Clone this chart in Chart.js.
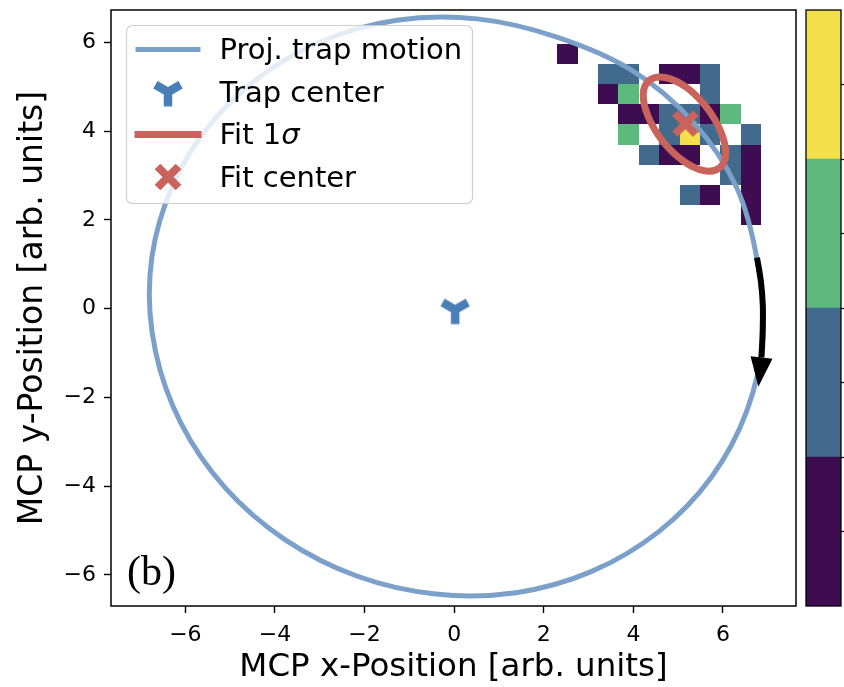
<!DOCTYPE html>
<html>
<head>
<meta charset="utf-8">
<script src="https://cdn.jsdelivr.net/npm/chart.js@4.4.1/dist/chart.umd.min.js"></script>
<style>
    html, body { margin: 0; padding: 0; background: #fff; overflow: hidden; }
    #wrap { position: relative; width: 844px; height: 687px; overflow: hidden; }
    #main-box { position: absolute; left: 0; top: 0; width: 806px; height: 687px; }
    #cbar-box { position: absolute; left: 800px; top: 0; width: 100px; height: 687px; }
</style>
</head>
<body>
<div id="wrap">
    <div id="main-box"><canvas id="mainChart"></canvas></div>
    <div id="cbar-box"><canvas id="cbarChart"></canvas></div>
</div>
<script>
// ---- data ----
const xTicks = [-6, -4, -2, 0, 2, 4, 6];
const yTicks = [-6, -4, -2, 0, 2, 4, 6];

// projected trap motion (closed curve)
const trapMotionX = [6.53, 6.89, 6.77, 6.30, 5.32, 3.95, 2.26, 0.51, -1.28, -2.97, -4.46, -5.64, -6.43, -6.79, -6.67, -6.10, -5.11, -3.77, -2.16, -0.41, 1.38, 3.07, 4.56, 5.74];
const trapMotionY = [-2.31, -0.66, 1.05, 2.74, 4.22, 5.38, 6.13, 6.53, 6.50, 6.02, 5.13, 3.90, 2.41, 0.76, -0.95, -2.58, -4.04, -5.21, -6.03, -6.43, -6.40, -5.92, -5.03, -3.80];

const trapCenterX = [0];
const trapCenterY = [0];

// fit 1 sigma contour (closed curve)
const fitEllipseX = [5.92, 6.06, 5.95, 5.63, 5.18, 4.71, 4.36, 4.22, 4.33, 4.65, 5.11, 5.57];
const fitEllipseY = [3.17, 3.49, 3.99, 4.54, 4.99, 5.21, 5.15, 4.83, 4.33, 3.78, 3.33, 3.11];

const fitCenterX = [5.16];
const fitCenterY = [4.17];

// rotation arrow
const arrowX = [6.76, 6.85, 6.89, 6.885, 6.86];
const arrowY = [1.15, 0.59, 0.05, -0.54, -1.10];
const arrowTip = [6.79, -1.76];

// 2d histogram: first bin edge, bin width, levels (row 0 = top)
const histX0 = 2.30;
const histYTop = 5.97;
const histBin = 0.455;
const histLevels = [
    [1, 0, 0, 0, 0, 0, 0, 0, 0, 0],
    [0, 0, 2, 2, 0, 1, 1, 2, 0, 0],
    [0, 0, 1, 3, 0, 0, 0, 2, 0, 0],
    [0, 0, 0, 1, 1, 2, 2, 1, 3, 0],
    [0, 0, 0, 3, 0, 2, 4, 2, 0, 2],
    [0, 0, 0, 0, 2, 1, 1, 0, 2, 1],
    [0, 0, 0, 0, 0, 0, 0, 0, 2, 1],
    [0, 0, 0, 0, 0, 0, 2, 1, 0, 1],
    [0, 0, 0, 0, 0, 0, 0, 0, 0, 1]
];

const cbarLevels = [1, 2, 3, 4];
const cbarTicks = [0.5, 1, 1.5, 2, 2.5, 3, 3.5];
const levelColors = ['#3e0c51', '#416a8c', '#5eb97f', '#f4e04d'];

const legendLabels = ['Proj. trap motion', 'Trap center', 'Fit 1', 'Fit center'];

const blue = '#7ba1ca';
const darkBlue = '#4a7eb7';
const red = '#c9635b';

Chart.defaults.font.family = '"DejaVu Sans", sans-serif';
Chart.defaults.color = '#000';

function toPoints(xs, ys) {
    return xs.map((x, i) => ({ x: x, y: ys[i] }));
}

// wrap a closed curve so the spline joins smoothly; the two outer
// segments are hidden by closedSegment below
function closeLoop(pts) {
    return [pts[pts.length - 1], ...pts, pts[0], pts[1]];
}

function closedSegment(total) {
    return {
        borderColor: ctx => (ctx.p0DataIndex === 0 || ctx.p1DataIndex === total - 1) ? 'rgba(0,0,0,0)' : undefined
    };
}

function fmtTick(v) {
    return v < 0 ? '\u2212' + Math.abs(v) : String(v);
}

function noPadding(s) {
    s.paddingTop = 0; s.paddingBottom = 0; s.paddingLeft = 0; s.paddingRight = 0;
}

// marker images
function makeTriDown() {
    const c = document.createElement('canvas');
    c.width = 40; c.height = 40;
    const g = c.getContext('2d');
    const r = 14.5;
    g.strokeStyle = darkBlue;
    g.lineWidth = 8.5;
    g.beginPath();
    g.moveTo(21, 21); g.lineTo(21, 21 + r);
    g.moveTo(21, 21); g.lineTo(21 - 0.866 * r, 21 - 0.5 * r);
    g.moveTo(21, 21); g.lineTo(21 + 0.866 * r, 21 - 0.5 * r);
    g.stroke();
    return c;
}

function makeCrossX() {
    const c = document.createElement('canvas');
    c.width = 32; c.height = 32;
    const g = c.getContext('2d');
    const h = 10.5;
    g.strokeStyle = red;
    g.lineWidth = 8;
    g.beginPath();
    g.moveTo(16 - h, 16 - h); g.lineTo(16 + h, 16 + h);
    g.moveTo(16 + h, 16 - h); g.lineTo(16 - h, 16 + h);
    g.stroke();
    return c;
}

const triImg = makeTriDown();
const crossImg = makeCrossX();

const histPlugin = {
    id: 'hist',
    beforeDatasetsDraw(chart) {
        const { ctx, scales: { x, y } } = chart;
        ctx.save();
        histLevels.forEach((row, r) => {
            row.forEach((lv, c) => {
                if (!lv) return;
                const left = Math.round(x.getPixelForValue(histX0 + c * histBin));
                const right = Math.round(x.getPixelForValue(histX0 + (c + 1) * histBin));
                const top = Math.round(y.getPixelForValue(histYTop - r * histBin));
                const bottom = Math.round(y.getPixelForValue(histYTop - (r + 1) * histBin));
                ctx.fillStyle = levelColors[lv - 1];
                ctx.fillRect(left, top, right - left, bottom - top);
            });
        });
        ctx.restore();
    }
};

function roundRectPath(ctx, x, y, w, h, r) {
    ctx.beginPath();
    ctx.moveTo(x + r, y);
    ctx.arcTo(x + w, y, x + w, y + h, r);
    ctx.arcTo(x + w, y + h, x, y + h, r);
    ctx.arcTo(x, y + h, x, y, r);
    ctx.arcTo(x, y, x + w, y, r);
    ctx.closePath();
}

const overlayPlugin = {
    id: 'overlay',
    afterDatasetsDraw(chart) {
        const { ctx, chartArea: a, scales: { x, y } } = chart;
        ctx.save();

        // arrow head
        const n = arrowX.length - 1;
        const bx = x.getPixelForValue(arrowX[n]), by = y.getPixelForValue(arrowY[n]);
        const tx = x.getPixelForValue(arrowTip[0]), ty = y.getPixelForValue(arrowTip[1]);
        const len = Math.hypot(tx - bx, ty - by);
        const nx = -(ty - by) / len, ny = (tx - bx) / len;
        ctx.fillStyle = '#000';
        ctx.beginPath();
        ctx.moveTo(tx, ty);
        ctx.lineTo(bx + nx * 11, by + ny * 11);
        ctx.lineTo(bx - nx * 11, by - ny * 11);
        ctx.closePath();
        ctx.fill();

        // axes frame
        ctx.strokeStyle = '#000';
        ctx.lineWidth = 1.5;
        ctx.strokeRect(a.left, a.top, a.right - a.left, a.bottom - a.top);

        // legend
        const lx = a.left + 15.5, ly = a.top + 15.5;
        roundRectPath(ctx, lx, ly, 346, 178, 6);
        ctx.fillStyle = 'rgba(255,255,255,0.8)';
        ctx.fill();
        ctx.strokeStyle = '#cfcfcf';
        ctx.lineWidth = 1.2;
        ctx.stroke();

        const rows = [ly + 24, ly + 66.5, ly + 109, ly + 151.5];
        ctx.lineCap = 'butt';
        ctx.strokeStyle = blue;
        ctx.lineWidth = 5;
        ctx.beginPath(); ctx.moveTo(lx + 9, rows[0]); ctx.lineTo(lx + 74, rows[0]); ctx.stroke();
        ctx.drawImage(triImg, lx + 41.5 - 21, rows[1] - 21);
        ctx.strokeStyle = red;
        ctx.lineWidth = 7;
        ctx.beginPath(); ctx.moveTo(lx + 8, rows[2]); ctx.lineTo(lx + 75, rows[2]); ctx.stroke();
        ctx.drawImage(crossImg, lx + 41.5 - 16, rows[3] - 16);

        ctx.fillStyle = '#000';
        ctx.textBaseline = 'middle';
        ctx.textAlign = 'left';
        ctx.font = '29px "DejaVu Sans"';
        const tx0 = lx + 93;
        legendLabels.forEach((t, i) => ctx.fillText(t, tx0, rows[i] + 2));
        const w = ctx.measureText(legendLabels[2]).width;
        ctx.font = 'italic 29px "DejaVu Sans"';
        ctx.fillText('\u03c3', tx0 + w, rows[2] + 2);

        // panel label
        ctx.font = '42px "Liberation Serif"';
        ctx.fillText('(b)', a.left + 16, a.bottom - 32);

        ctx.restore();
    }
};

const trapLoop = closeLoop(toPoints(trapMotionX, trapMotionY));
const fitLoop = closeLoop(toPoints(fitEllipseX, fitEllipseY));

const mainCtx = document.getElementById('mainChart').getContext('2d');
new Chart(mainCtx, {
    type: 'scatter',
    data: {
        datasets: [
            { label: 'Fit center', data: toPoints(fitCenterX, fitCenterY), pointStyle: crossImg, pointRadius: 14, showLine: false },
            { label: 'Trap center', data: toPoints(trapCenterX, trapCenterY), pointStyle: triImg, pointRadius: 16, showLine: false },
            { label: 'arrow', data: toPoints(arrowX, arrowY), showLine: true, borderColor: '#000', borderWidth: 6, pointRadius: 0, tension: 0.35, borderCapStyle: 'butt' },
            { label: 'Fit 1 sigma', data: fitLoop, showLine: true, borderColor: red, borderWidth: 7, pointRadius: 0, tension: 0.35, segment: closedSegment(fitLoop.length) },
            { label: 'Proj. trap motion', data: trapLoop, showLine: true, borderColor: blue, borderWidth: 5, pointRadius: 0, tension: 0.34, segment: closedSegment(trapLoop.length) }
        ]
    },
    options: {
        responsive: true,
        maintainAspectRatio: false,
        animation: false,
        layout: { autoPadding: false, padding: { top: 10, right: 10, left: 0, bottom: 0 } },
        plugins: { legend: { display: false }, tooltip: { enabled: false } },
        scales: {
            x: {
                type: 'linear', min: -7.66, max: 7.63,
                afterBuildTicks: s => { s.ticks = xTicks.map(v => ({ value: v })); },
                afterFit: s => { s.height = 81; noPadding(s); },
                ticks: { font: { size: 22 }, color: '#000', padding: 9, autoSkip: false, maxRotation: 0, callback: v => fmtTick(v) },
                grid: { drawOnChartArea: false, drawTicks: true, tickLength: 7, tickColor: '#000', tickWidth: 1.4 },
                border: { display: false },
                title: { display: true, text: 'MCP x-Position [arb. units]', font: { size: 32.5 }, color: '#000', padding: { top: 0, bottom: 0 } }
            },
            y: {
                type: 'linear', min: -6.7, max: 6.73,
                afterBuildTicks: s => { s.ticks = yTicks.map(v => ({ value: v })); },
                afterFit: s => { s.width = 111; noPadding(s); },
                ticks: { font: { size: 22 }, color: '#000', padding: 8, autoSkip: false, callback: v => fmtTick(v) },
                grid: { drawOnChartArea: false, drawTicks: true, tickLength: 7, tickColor: '#000', tickWidth: 1.4 },
                border: { display: false },
                title: { display: true, text: 'MCP y-Position [arb. units]', font: { size: 33 }, color: '#000', padding: { top: 14, bottom: 0 } }
            }
        }
    },
    plugins: [histPlugin, overlayPlugin]
});

// ---- colorbar ----
const framePlugin = {
    id: 'frame',
    afterDatasetsDraw(chart) {
        const { ctx, chartArea: a } = chart;
        ctx.save();
        ctx.strokeStyle = '#000';
        ctx.lineWidth = 1.3;
        ctx.strokeRect(a.left, a.top, a.right - a.left, a.bottom - a.top);
        ctx.restore();
    }
};

const cbarCtx = document.getElementById('cbarChart').getContext('2d');
new Chart(cbarCtx, {
    type: 'bar',
    data: {
        labels: [''],
        datasets: cbarLevels.map((lv, i) => ({
            label: String(lv), data: [1], backgroundColor: levelColors[i], borderWidth: 0,
            barPercentage: 1, categoryPercentage: 1
        }))
    },
    options: {
        responsive: true,
        maintainAspectRatio: false,
        animation: false,
        layout: { autoPadding: false, padding: { top: 10, right: 0, left: 6, bottom: 81 } },
        plugins: { legend: { display: false }, tooltip: { enabled: false } },
        scales: {
            x: { stacked: true, display: false },
            y: {
                stacked: true, position: 'right', min: 0, max: 4,
                afterBuildTicks: s => { s.ticks = cbarTicks.map(v => ({ value: v })); },
                afterFit: s => { s.width = 59; noPadding(s); },
                ticks: { display: false },
                grid: { drawOnChartArea: false, drawTicks: true, tickLength: 5, tickColor: '#000', tickWidth: 1.2 },
                border: { display: false }
            }
        }
    },
    plugins: [framePlugin]
});
</script>
</body>
</html>
